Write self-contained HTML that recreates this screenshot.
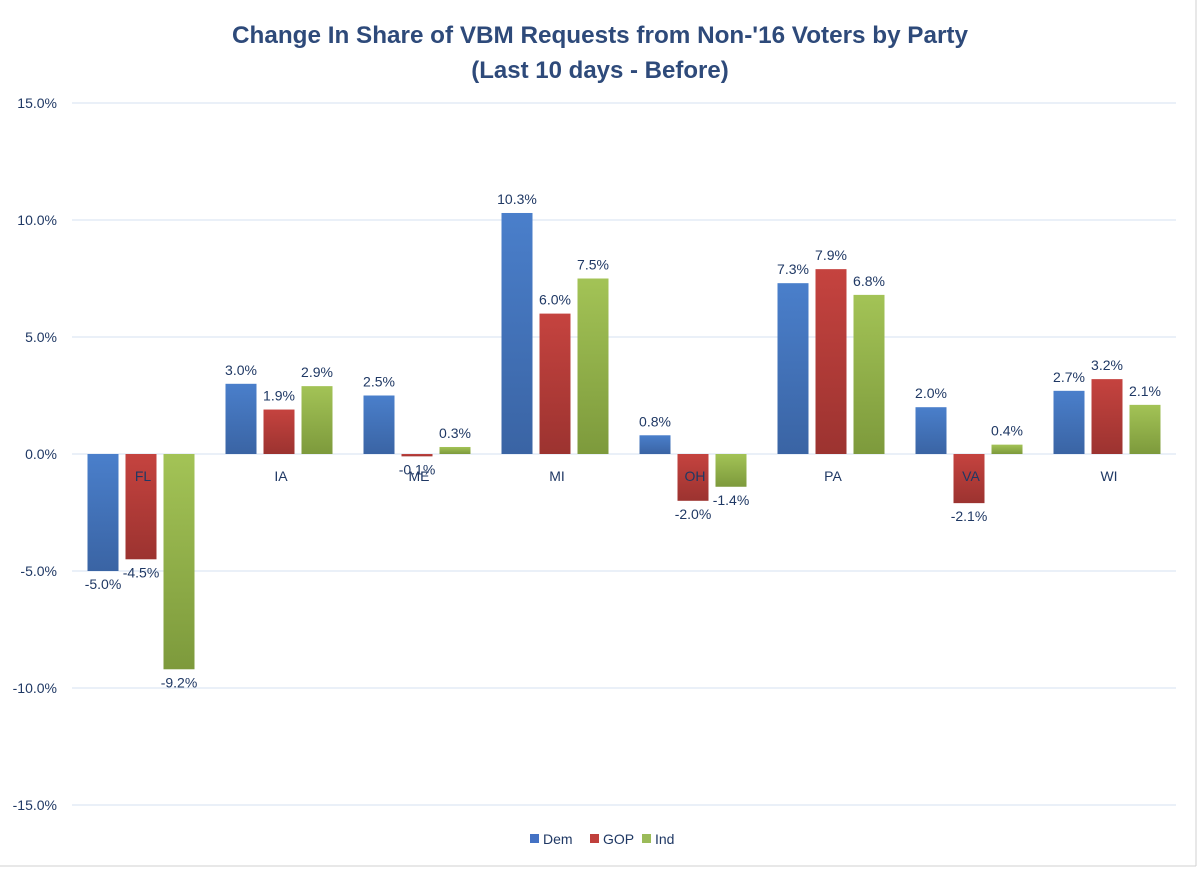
<!DOCTYPE html>
<html><head><meta charset="utf-8"><style>
body{margin:0;background:#fff;}
svg{display:block;font-family:"Liberation Sans",sans-serif;}
</style></head><body>
<svg id="chart" width="1200" height="870">
<defs>
<linearGradient id="gDem" x1="0" y1="0" x2="0" y2="1"><stop offset="0" stop-color="#4a7fcb"/><stop offset="1" stop-color="#3a64a4"/></linearGradient>
<linearGradient id="gGOP" x1="0" y1="0" x2="0" y2="1"><stop offset="0" stop-color="#c5433f"/><stop offset="1" stop-color="#9c3330"/></linearGradient>
<linearGradient id="gInd" x1="0" y1="0" x2="0" y2="1"><stop offset="0" stop-color="#a3c356"/><stop offset="1" stop-color="#7d9a3c"/></linearGradient>
</defs>
<line x1="1196" y1="0" x2="1196" y2="866" stroke="#d0d0d0"/>
<line x1="0" y1="866" x2="1196" y2="866" stroke="#d0d0d0"/>
<text x="600" y="43" text-anchor="middle" font-size="24" font-weight="bold" fill="#2e4a7a" textLength="736" lengthAdjust="spacingAndGlyphs">Change In Share of VBM Requests from Non-'16 Voters by Party</text>
<text x="600" y="78" text-anchor="middle" font-size="24" font-weight="bold" fill="#2e4a7a">(Last 10 days - Before)</text>
<g id="grid"></g><g id="bars"></g><g id="labels"></g>
<g font-size="14" fill="#1f3864">
<rect x="530" y="834" width="9" height="9" fill="#4472c4"/>
<text x="543" y="844">Dem</text>
<rect x="590" y="834" width="9" height="9" fill="#c0403c"/>
<text x="603" y="844">GOP</text>
<rect x="642" y="834" width="9" height="9" fill="#9bbb59"/>
<text x="655" y="844">Ind</text>
</g>
</svg>
<script>
const categories=["FL","IA","ME","MI","OH","PA","VA","WI"];
const dem=[-5.0,3.0,2.5,10.3,0.8,7.3,2.0,2.7];
const gop=[-4.5,1.9,-0.1,6.0,-2.0,7.9,-2.1,3.2];
const ind=[-9.2,2.9,0.3,7.5,-1.4,6.8,0.4,2.1];
const ticks=[15,10,5,0,-5,-10,-15];
const NS="http://www.w3.org/2000/svg";
const x0=72,x1=1176,yZero=454,pxPer=23.4;
const catW=(x1-x0)/categories.length;
function y(v){return yZero-v*pxPer;}
function mk(t,a,p){const e=document.createElementNS(NS,t);for(const k in a)e.setAttribute(k,a[k]);p.appendChild(e);return e;}
const grid=document.getElementById('grid'),bars=document.getElementById('bars'),labels=document.getElementById('labels');
ticks.forEach(t=>{
  const l=mk('line',{x1:x0,x2:x1,y1:y(t),y2:y(t),stroke:'#d6e2f0','stroke-width':1},grid);
  
  
  const tx=mk('text',{x:57,y:y(t)+5,'text-anchor':'end','font-size':14,fill:'#1f3864'},grid);
  tx.textContent=t.toFixed(1)+'%';
  
  
});
const series=[[dem,'url(#gDem)','dem'],[gop,'url(#gGOP)','gop'],[ind,'url(#gInd)','ind']];
const bw=31,gap=7;
categories.forEach((c,i)=>{
  const cx=x0+catW*(i+0.5);
  const start=cx-(3*bw+2*gap)/2;
  series.forEach((s,j)=>{
    const v=s[0][i];
    const bx=start+j*(bw+gap);
    const top=Math.min(y(v),yZero),h=Math.abs(y(v)-yZero);
    const r=mk('rect',{x:bx,y:top,width:bw,height:Math.max(h,0.5),fill:s[1]},bars);
    
    
    const ly=v>=0?y(v)-9:y(v)+18;
    const t=mk('text',{x:bx+bw/2,y:ly,'text-anchor':'middle','font-size':14,fill:'#1f3864'},labels);
    t.textContent=v.toFixed(1)+'%';
    
    
  });
  const ct=mk('text',{x:cx+2,y:481,'text-anchor':'middle','font-size':14,fill:'#1f3864'},labels);
  ct.textContent=c;
  
  
});
</script>
</body></html>
